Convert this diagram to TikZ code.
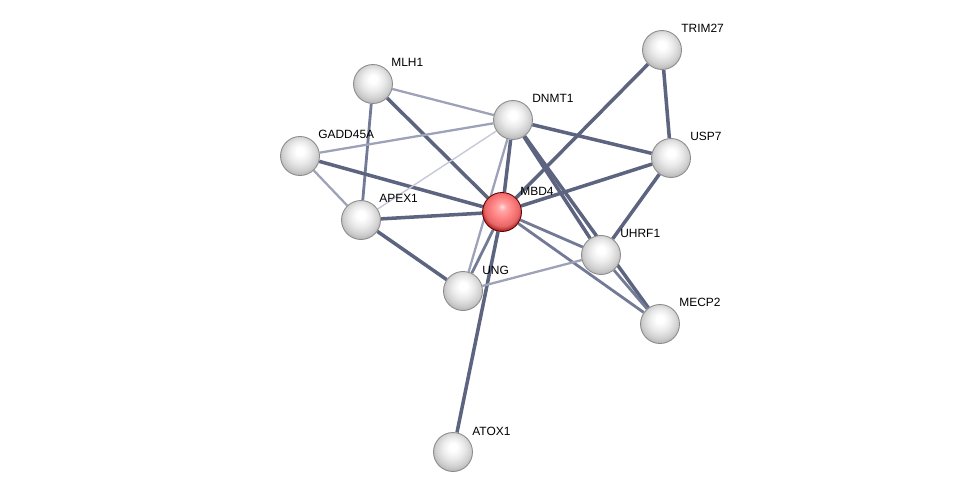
\documentclass[tikz,border=0pt]{standalone}
\usepackage{fontspec}
\setmainfont{Liberation Sans}
\usepackage{xcolor}
\usepackage{tikz}
\usetikzlibrary{backgrounds}

\definecolor{edgedark}{HTML}{5C6480}
\definecolor{edgemid}{HTML}{737A96}
\definecolor{edgelight}{HTML}{9DA2B8}
\definecolor{edgefaint}{HTML}{C6C9D7}

\pgfdeclareradialshading{graysphere}{\pgfqpoint{0bp}{7bp}}{%
  color(0bp)=(white); color(5bp)=(white); color(14bp)=(black!8);
  color(22bp)=(black!18); color(30bp)=(black!32); color(50bp)=(black!45)}
\pgfdeclareradialshading{redsphere}{\pgfqpoint{0bp}{7bp}}{%
  color(0bp)=(red!12!white); color(5bp)=(red!35!white); color(14bp)=(red!50!white);
  color(22bp)=(red!55!white!90!black); color(30bp)=(red!55!black); color(50bp)=(red!45!black)}

\begin{document}
\begin{tikzpicture}[
    x=0.02cm, y=-0.02cm,
    font=\fontsize{6.8}{8}\selectfont,
    gene/.style={circle, minimum size=0.78cm, inner sep=0pt,
                 shading=graysphere, draw=black!45, line width=0.5pt},
    query/.style={gene, shading=redsphere, draw=red!40!black},
    lbl/.style={anchor=base west, inner sep=0pt, text=black},
    dark/.style={draw=edgedark, line width=2pt},
    mid/.style={draw=edgemid, line width=1.6pt},
    light/.style={draw=edgelight, line width=1.3pt},
    faint/.style={draw=edgefaint, line width=0.8pt},
]
\useasboundingbox (0,0) rectangle (976,498);

% --- proteins ---
\node[gene]  (trim27) at (662,50)  {};
\node[gene]  (mlh1)   at (373,84)  {};
\node[gene]  (dnmt1)  at (513,120) {};
\node[gene]  (gadd)   at (300,156) {};
\node[gene]  (usp7)   at (671,158) {};
\node[query] (mbd4)   at (502,212) {};
\node[gene]  (apex1)  at (361,220) {};
\node[gene]  (uhrf1)  at (601,255) {};
\node[gene]  (ung)    at (463,291) {};
\node[gene]  (mecp2)  at (660,324) {};
\node[gene]  (atox1)  at (453,452) {};

% --- names ---
\node[lbl] (trim27-t) at (681,32)  {TRIM27};
\node[lbl] (mlh1-t)   at (391,66)  {MLH1};
\node[lbl] (dnmt1-t)  at (532,102) {DNMT1};
\node[lbl] (gadd-t)   at (318,138) {GADD45A};
\node[lbl] (usp7-t)   at (690,140) {USP7};
\node[lbl] (mbd4-t)   at (520,195) {MBD4};
\node[lbl] (apex1-t)  at (379,202) {APEX1};
\node[lbl] (uhrf1-t)  at (620,237) {UHRF1};
\node[lbl] (ung-t)    at (482,274) {UNG};
\node[lbl] (mecp2-t)  at (679,306) {MECP2};
\node[lbl] (atox1-t)  at (472,435) {ATOX1};

% --- interactions ---
\begin{scope}[on background layer]
\draw[light] (mlh1)  -- (dnmt1);
\draw[dark]  (mlh1)  -- (mbd4);
\draw[mid]   (mlh1)  -- (apex1);
\draw[light] (gadd)  -- (dnmt1);
\draw[dark]  (gadd)  -- (mbd4);
\draw[light] (gadd)  -- (apex1);
\draw[faint] (apex1) -- (dnmt1);
\draw[dark]  (apex1) -- (mbd4);
\draw[dark]  (apex1) -- (ung);
\draw[dark]  (dnmt1) -- (mbd4);
\draw[light] (dnmt1) -- (ung);
\draw[dark]  (dnmt1) -- (usp7);
\draw[dark]  (dnmt1) -- (uhrf1);
\draw[dark]  (dnmt1) -- (mecp2);
\draw[dark]  (trim27) -- (usp7);
\draw[dark]  (trim27) -- (mbd4);
\draw[dark]  (usp7)  -- (mbd4);
\draw[dark]  (usp7)  -- (uhrf1);
\draw[mid]   (mbd4)  -- (uhrf1);
\draw[mid]   (mbd4)  -- (mecp2);
\draw[mid]   (mbd4)  -- (ung);
\draw[dark]  (mbd4)  -- (atox1);
\draw[light] (ung)   -- (uhrf1);
\draw[mid]   (uhrf1) -- (mecp2);
\end{scope}
\end{tikzpicture}
\end{document}
